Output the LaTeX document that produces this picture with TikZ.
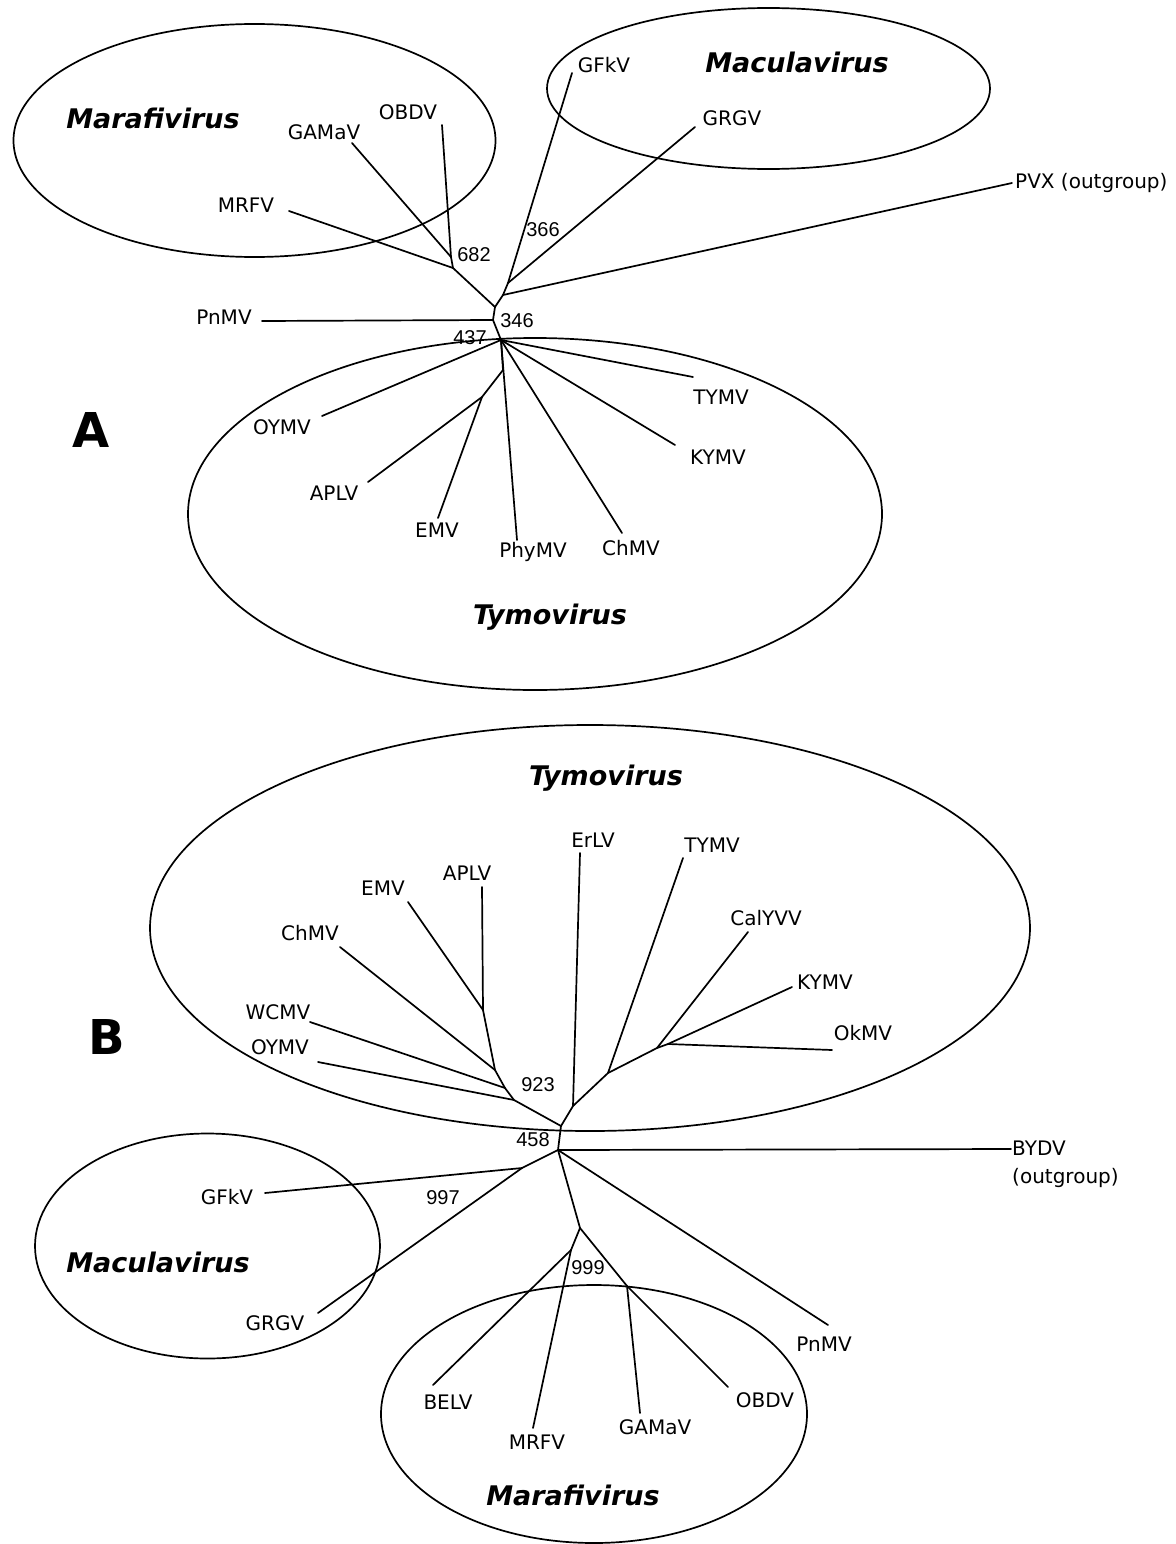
\documentclass[tikz,border=0pt]{standalone}
\usepackage{fontspec}
\setmainfont{DejaVu Sans}
\newfontfamily\numfont{Liberation Sans}
\begin{document}
\begin{tikzpicture}[x=1pt,y=-1pt,
  br/.style={line width=1.7pt, line join=round, line cap=round},
  clade/.style={line width=1.7pt},
  lab/.style={font=\fontsize{20}{24}\selectfont, inner sep=0pt},
  boot/.style={font=\numfont\fontsize{20}{24}\selectfont, inner sep=0pt},
  genus/.style={font=\fontsize{27}{30}\selectfont\bfseries\itshape, inner sep=0pt},
  panel/.style={font=\fontsize{48}{52}\selectfont\bfseries, inner sep=0pt}]
\useasboundingbox (0,0) rectangle (1175,1544);

%% ================= Panel A =================
\draw[clade] (254.5,140.5) ellipse [x radius=241pt, y radius=116.5pt];
\draw[clade] (768.5,88.5) ellipse [x radius=221.5pt, y radius=80.5pt];
\draw[clade] (535,514) ellipse [x radius=347pt, y radius=176pt];

\coordinate (aOBDV) at (442,125);
\coordinate (aGAMaV) at (352,143);
\coordinate (aMRFV) at (289,211);
\coordinate (aM1) at (451,257);
\coordinate (aM2) at (453,268);
\coordinate (aN1) at (495,307);
\coordinate (aN2) at (503,295);
\coordinate (aN3) at (508,283);
\coordinate (aGFkV) at (572,73);
\coordinate (aGRGV) at (695,127);
\coordinate (aPVX) at (1012,183);
\coordinate (aP) at (493,320);
\coordinate (aPnMV) at (262,321);
\coordinate (aT) at (501,340);
\coordinate (aTYMV) at (693,377);
\coordinate (aKYMV) at (675,445);
\coordinate (aChMV) at (622,533);
\coordinate (aPhyMV) at (517,540);
\coordinate (aE0) at (503,370);
\coordinate (aE1) at (482,397);
\coordinate (aAPLV) at (368,482);
\coordinate (aEMV) at (438,518);
\coordinate (aOYMV) at (322,416);

\draw[br] (aOBDV) -- (aM1);
\draw[br] (aGAMaV) -- (aM1);
\draw[br] (aM1) -- (aM2);
\draw[br] (aMRFV) -- (aM2);
\draw[br] (aM2) -- (aN1);
\draw[br] (aN1) -- (aN2);
\draw[br] (aN2) -- (aN3);
\draw[br] (aN3) -- (aGFkV);
\draw[br] (aN3) -- (aGRGV);
\draw[br] (aN2) -- (aPVX);
\draw[br] (aN1) -- (aP);
\draw[br] (aPnMV) -- (aP);
\draw[br] (aP) -- (aT);
\draw[br] (aT) -- (aTYMV);
\draw[br] (aT) -- (aKYMV);
\draw[br] (aT) -- (aChMV);
\draw[br] (aT) -- (aPhyMV);
\draw[br] (aT) -- (aE0) -- (aE1);
\draw[br] (aE1) -- (aAPLV);
\draw[br] (aE1) -- (aEMV);
\draw[br] (aT) -- (aOYMV);

\node[genus] (gMaraA) at (153,118) {Marafivirus};
\node[genus] (gMacuA) at (797,62) {Maculavirus};
\node[genus] (gTymoA) at (550,617) {Tymovirus};
\node[panel] (pA) at (91,430) {A};

\node[lab] (tOBDVa) at (408,112) {OBDV};
\node[lab] (tGAMaVa) at (324,132) {GAMaV};
\node[lab] (tMRFVa) at (246,205) {MRFV};
\node[lab] (tGFkVa) at (604,65) {GFkV};
\node[lab] (tGRGVa) at (732,118) {GRGV};
\node[lab, anchor=west] (tPVX) at (1015,183) {PVX (outgroup)};
\node[lab] (tPnMVa) at (224,317) {PnMV};
\node[lab] (tTYMVa) at (721,397) {TYMV};
\node[lab] (tKYMVa) at (718,457) {KYMV};
\node[lab] (tChMVa) at (631,548) {ChMV};
\node[lab] (tPhyMVa) at (533,552) {PhyMV};
\node[lab] (tEMVa) at (437,530) {EMV};
\node[lab] (tAPLVa) at (334,493) {APLV};
\node[lab] (tOYMVa) at (282,427) {OYMV};

\node[boot] (b682) at (474,255) {682};
\node[boot] (b366) at (543,230) {366};
\node[boot] (b346) at (517,321) {346};
\node[boot] (b437) at (470,338) {437};

%% ================= Panel B =================
\draw[clade] (590,928) ellipse [x radius=440pt, y radius=203pt];
\draw[clade] (207.5,1246) ellipse [x radius=172.5pt, y radius=112.5pt];
\draw[clade] (594,1414) ellipse [x radius=213pt, y radius=129pt];

\coordinate (bR) at (558,1150);
\coordinate (bBYDV) at (1011,1149);
\coordinate (bT) at (561,1126);
\coordinate (bL4) at (514,1100);
\coordinate (bL3) at (505,1088);
\coordinate (bL2) at (495,1070);
\coordinate (bL1) at (483,1010);
\coordinate (bAPLV) at (482,887);
\coordinate (bEMV) at (408,902);
\coordinate (bChMV) at (340,947);
\coordinate (bWCMV) at (310,1022);
\coordinate (bOYMV) at (318,1062);
\coordinate (bR1) at (573,1106);
\coordinate (bErLV) at (580,853);
\coordinate (bR2) at (608,1073);
\coordinate (bTYMV) at (683,858);
\coordinate (bR3) at (657,1048);
\coordinate (bCalYVV) at (748,932);
\coordinate (bR4) at (668,1044);
\coordinate (bKYMV) at (792,987);
\coordinate (bOkMV) at (832,1050);
\coordinate (bM) at (522,1168);
\coordinate (bGFkV) at (265,1193);
\coordinate (bGRGV) at (318,1313);
\coordinate (bPnMV) at (828,1325);
\coordinate (bF) at (580,1228);
\coordinate (bF1) at (571,1250);
\coordinate (bBELV) at (433,1385);
\coordinate (bMRFV) at (533,1428);
\coordinate (bF2) at (627,1286);
\coordinate (bGAMaV) at (640,1413);
\coordinate (bOBDV) at (728,1387);

\draw[br] (bR) -- (bBYDV);
\draw[br] (bR) -- (bT);
\draw[br] (bT) -- (bL4) -- (bL3) -- (bL2) -- (bL1) -- (bAPLV);
\draw[br] (bL1) -- (bEMV);
\draw[br] (bL2) -- (bChMV);
\draw[br] (bL3) -- (bWCMV);
\draw[br] (bL4) -- (bOYMV);
\draw[br] (bT) -- (bR1) -- (bR2) -- (bR3) -- (bR4) -- (bOkMV);
\draw[br] (bR1) -- (bErLV);
\draw[br] (bR2) -- (bTYMV);
\draw[br] (bR3) -- (bCalYVV);
\draw[br] (bR4) -- (bKYMV);
\draw[br] (bR) -- (bM);
\draw[br] (bM) -- (bGFkV);
\draw[br] (bM) -- (bGRGV);
\draw[br] (bR) -- (bPnMV);
\draw[br] (bR) -- (bF);
\draw[br] (bF) -- (bF1);
\draw[br] (bF1) -- (bBELV);
\draw[br] (bF1) -- (bMRFV);
\draw[br] (bF) -- (bF2);
\draw[br] (bF2) -- (bGAMaV);
\draw[br] (bF2) -- (bOBDV);

\node[genus] (gTymoB) at (606,778) {Tymovirus};
\node[genus] (gMacuB) at (158,1262) {Maculavirus};
\node[genus] (gMaraB) at (573,1495) {Marafivirus};
\node[panel] (pB) at (107,1037) {B};

\node[lab] (tErLVb) at (593,840) {ErLV};
\node[lab] (tAPLVb) at (467,873) {APLV};
\node[lab] (tEMVb) at (383,888) {EMV};
\node[lab] (tChMVb) at (310,933) {ChMV};
\node[lab] (tWCMVb) at (278,1012) {WCMV};
\node[lab] (tOYMVb) at (280,1047) {OYMV};
\node[lab] (tTYMVb) at (712,845) {TYMV};
\node[lab] (tCalYVVb) at (766,918) {CalYVV};
\node[lab] (tKYMVb) at (825,982) {KYMV};
\node[lab] (tOkMVb) at (863,1033) {OkMV};
\node[lab, anchor=west, align=left, font=\fontsize{20}{28}\selectfont] (tBYDV) at (1012,1164) {BYDV\\(outgroup)};
\node[lab] (tGFkVb) at (227,1197) {GFkV};
\node[lab] (tGRGVb) at (275,1323) {GRGV};
\node[lab] (tPnMVb) at (824,1344) {PnMV};
\node[lab] (tBELVb) at (448,1402) {BELV};
\node[lab] (tMRFVb) at (537,1442) {MRFV};
\node[lab] (tGAMaVb) at (655,1427) {GAMaV};
\node[lab] (tOBDVb) at (765,1400) {OBDV};

\node[boot] (b923) at (538,1085) {923};
\node[boot] (b458) at (533,1140) {458};
\node[boot] (b997) at (443,1198) {997};
\node[boot] (b999) at (588,1268) {999};
\end{tikzpicture}
\end{document}
